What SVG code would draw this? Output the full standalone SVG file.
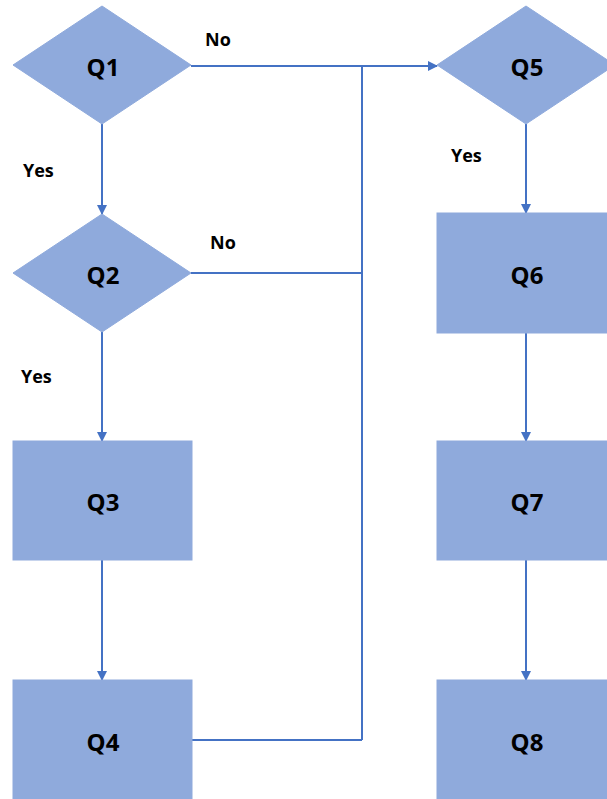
<svg xmlns="http://www.w3.org/2000/svg" width="607" height="799" viewBox="0 0 607 799">
<style>
.shape{fill:#8FAADC;stroke:#8FAADC;stroke-width:1}
.lbl{font-family:"Open Sans","Liberation Sans",sans-serif;font-weight:bold;font-size:24px;fill:#000;text-anchor:middle}
.edge{font-family:"Open Sans","Liberation Sans",sans-serif;font-weight:bold;font-size:18px;fill:#000}
.conn{fill:none;stroke:#4472C4;stroke-width:2}
</style>
<defs>
<marker id="arr" markerWidth="10" markerHeight="10" refX="9" refY="5" orient="auto" markerUnits="userSpaceOnUse">
<path d="M0,0 L10,5 L0,10 Z" fill="#4472C4"/>
</marker>
</defs>
<rect width="607" height="799" fill="#fff"/>
<g id="connectors">
<path class="conn" d="M191,66 H437" marker-end="url(#arr)"/>
<path class="conn" d="M362,66 V740"/>
<path class="conn" d="M191,273 H362"/>
<path class="conn" d="M192,740 H362"/>
<path class="conn" d="M102,124 V214" marker-end="url(#arr)"/>
<path class="conn" d="M102,332 V441" marker-end="url(#arr)"/>
<path class="conn" d="M102,560 V680" marker-end="url(#arr)"/>
<path class="conn" d="M526,124 V213" marker-end="url(#arr)"/>
<path class="conn" d="M526,333 V441" marker-end="url(#arr)"/>
<path class="conn" d="M526,560 V680" marker-end="url(#arr)"/>
<text class="edge" x="205" y="46">No</text>
<text class="edge" x="23" y="177">Yes</text>
<text class="edge" x="210" y="249">No</text>
<text class="edge" x="21" y="383">Yes</text>
<text class="edge" x="451" y="162">Yes</text>
</g>
<g id="Q1"><polygon class="shape" points="13,65 102,6 191,65 102,124"/><text class="lbl" x="103" y="76">Q1</text></g>
<g id="Q2"><polygon class="shape" points="13,273 102,214 191,273 102,332"/><text class="lbl" x="103" y="284">Q2</text></g>
<g id="Q3"><rect class="shape" x="13" y="441" width="179" height="119"/><text class="lbl" x="103" y="511">Q3</text></g>
<g id="Q4"><rect class="shape" x="13" y="680" width="179" height="125"/><text class="lbl" x="103" y="751">Q4</text></g>
<g id="Q5"><polygon class="shape" points="437,65 526,6 615,65 526,124"/><text class="lbl" x="527" y="76">Q5</text></g>
<g id="Q6"><rect class="shape" x="437" y="213" width="179" height="120"/><text class="lbl" x="527" y="284">Q6</text></g>
<g id="Q7"><rect class="shape" x="437" y="441" width="179" height="119"/><text class="lbl" x="527" y="511">Q7</text></g>
<g id="Q8"><rect class="shape" x="437" y="680" width="179" height="125"/><text class="lbl" x="527" y="751">Q8</text></g>
</svg>
